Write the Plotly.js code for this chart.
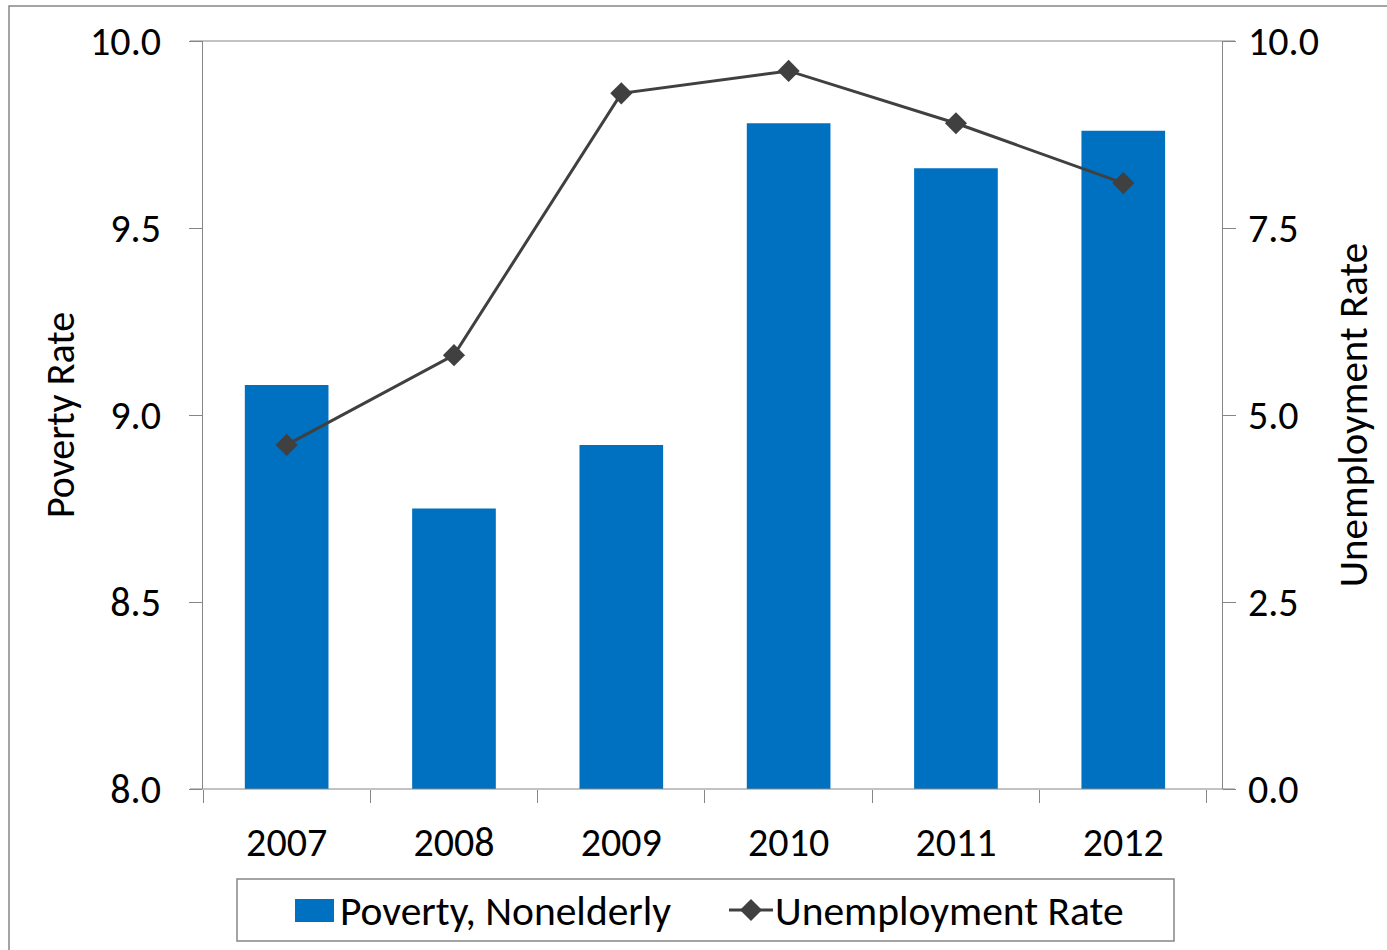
<!DOCTYPE html>
<html>
<head>
<meta charset="utf-8">
<script src="https://cdn.plot.ly/plotly-3.0.1.min.js"></script>
<style>html,body{margin:0;padding:0;background:#fff;}#chart{width:1387px;height:950px;}</style>
</head>
<body>
<div id="chart"></div>
<script>
var years = ['2007', '2008', '2009', '2010', '2011', '2012'];
var povertyNonelderly = [9.08, 8.75, 8.92, 9.78, 9.66, 9.76];
var unemploymentRate = [4.6, 5.8, 9.3, 9.6, 8.9, 8.1];
var leftTicks = [8.0, 8.5, 9.0, 9.5, 10.0];
var rightTicks = [0.0, 2.5, 5.0, 7.5, 10.0];
var seriesNames = ['Poverty, Nonelderly', 'Unemployment Rate'];

var FONT = 'Carlito, Lato, "Noto Sans", sans-serif';
var AX = '#868686';
var BAR = '#0070C0';
var LINE = '#404040';

var L = 203, R = 1222, T = 41, B = 789;
var W = R - L, H = B - T;
function px(x) { return (x - L) / W; }
function py(y) { return (B - y) / H; }

var traces = [
  {
    type: 'bar', name: seriesNames[0], x: years, y: povertyNonelderly,
    marker: {color: BAR}, width: 0.5, yaxis: 'y'
  },
  {
    type: 'scatter', mode: 'lines+markers', name: seriesNames[1], x: years, y: unemploymentRate,
    yaxis: 'y2', line: {color: LINE, width: 3},
    marker: {symbol: 'diamond', size: 17, color: LINE}
  }
];

var legCY = 910;
var LEGF = 41.5;
var layout = {
  width: 1387, height: 950,
  margin: {l: L, r: 1387 - R, t: T, b: 950 - B},
  paper_bgcolor: '#fff', plot_bgcolor: '#fff',
  font: {family: FONT, size: 40, color: '#000'},
  showlegend: false,
  xaxis: {
    type: 'category', range: [-0.5, 5.59], showgrid: false, zeroline: false,
    showline: false, ticks: 'outside', tickson: 'boundaries', ticklen: 13, tickcolor: AX, tickwidth: 1,
    tickfont: {family: FONT, size: 40}, ticklabelstandoff: 26
  },
  yaxis: {
    range: [8, 10], tickvals: leftTicks, tickformat: '.1f', showgrid: false, zeroline: false,
    showline: true, linecolor: AX, linewidth: 1, ticks: 'outside', ticklen: 13, tickcolor: AX,
    tickfont: {family: FONT, size: 40}, ticklabelstandoff: 20,
    title: {text: 'Poverty Rate', font: {family: FONT, size: 40}, standoff: 3}
  },
  yaxis2: {
    range: [0, 10], tickvals: rightTicks, tickformat: '.1f', overlaying: 'y', side: 'right',
    showgrid: false, zeroline: false,
    showline: true, linecolor: AX, linewidth: 1, ticks: 'outside', ticklen: 13, tickcolor: AX,
    tickfont: {family: FONT, size: 40}, ticklabelstandoff: 4,
    title: {text: 'Unemployment Rate', font: {family: FONT, size: 41}, standoff: 20}
  },
  shapes: [
    {type: 'line', xref: 'paper', yref: 'paper', x0: px(190), x1: px(1235), y0: 1, y1: 1, line: {color: AX, width: 1}},
    {type: 'line', xref: 'paper', yref: 'paper', x0: px(190), x1: px(1235), y0: 0, y1: 0, line: {color: AX, width: 1}},
    {type: 'rect', xref: 'paper', yref: 'paper', x0: px(9), x1: px(1400), y0: py(6), y1: py(960), line: {color: AX, width: 1.5}, fillcolor: 'rgba(0,0,0,0)', layer: 'below'},
    // legend box
    {type: 'rect', xref: 'paper', yref: 'paper', x0: px(237), x1: px(1174), y0: py(879), y1: py(941), line: {color: AX, width: 1.5}, fillcolor: '#fff'},
    // bar swatch
    {type: 'rect', xref: 'paper', yref: 'paper', x0: px(295), x1: px(334), y0: py(899), y1: py(922), line: {width: 0}, fillcolor: BAR},
    // line swatch
    {type: 'line', xref: 'paper', yref: 'paper', x0: px(729), x1: px(773), y0: py(legCY), y1: py(legCY), line: {color: LINE, width: 3}},
    {type: 'path', xref: 'paper', yref: 'paper',
     path: 'M ' + px(751) + ' ' + py(legCY - 11) + ' L ' + px(762) + ' ' + py(legCY) + ' L ' + px(751) + ' ' + py(legCY + 11) + ' L ' + px(740) + ' ' + py(legCY) + ' Z',
     line: {width: 0}, fillcolor: LINE}
  ],
  annotations: [
    {xref: 'paper', yref: 'paper', x: px(338), y: py(legCY), xanchor: 'left', yanchor: 'middle', showarrow: false,
     text: seriesNames[0], font: {family: FONT, size: LEGF, color: '#000'}},
    {xref: 'paper', yref: 'paper', x: px(773), y: py(legCY), xanchor: 'left', yanchor: 'middle', showarrow: false,
     text: seriesNames[1], font: {family: FONT, size: LEGF, color: '#000'}}
  ]
};

Plotly.newPlot('chart', traces, layout, {displayModeBar: false, responsive: false});
</script>
</body>
</html>
